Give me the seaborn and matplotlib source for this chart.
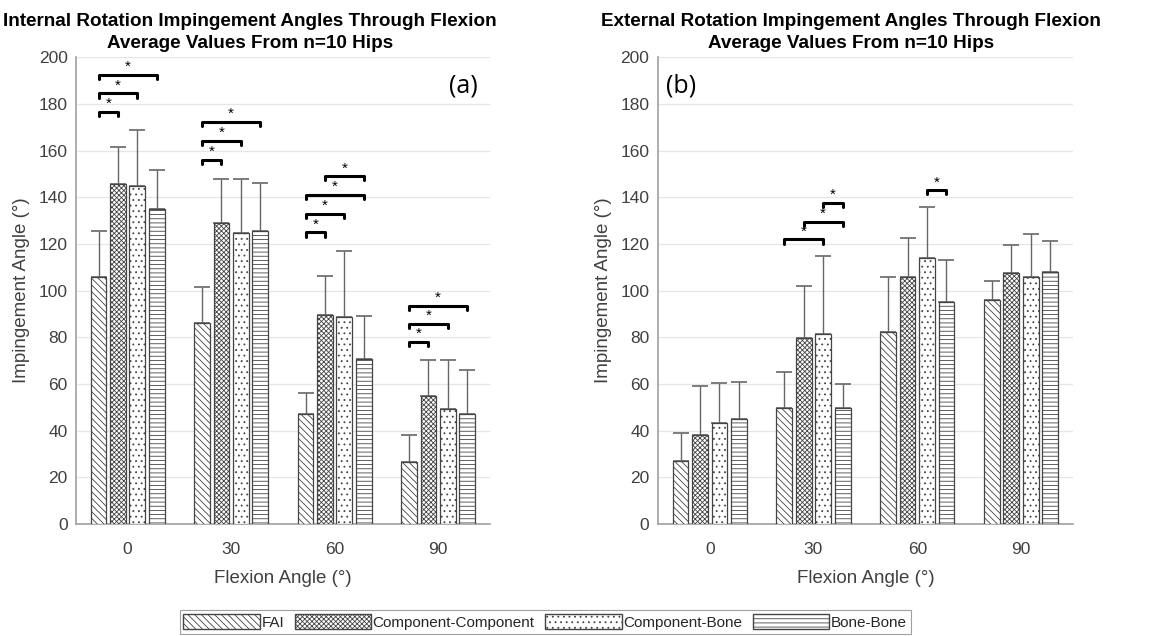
import matplotlib
matplotlib.use("Agg")
import matplotlib.pyplot as plt
import seaborn as sns
import pandas as pd
import numpy as np
from matplotlib.patches import Patch

# ---------------- data ----------------
flexion = ["0", "30", "60", "90"]
surfaces = ["FAI", "Component-Component", "Component-Bone", "Bone-Bone"]

ir_fai = [105.8, 86.0, 47.0, 26.7]
ir_cc = [145.8, 129.0, 89.4, 55.0]
ir_cb = [145.0, 124.8, 88.8, 49.4]
ir_bb = [134.8, 125.7, 70.8, 47.0]
ir_fai_sd = [19.9, 15.6, 9.0, 11.3]
ir_cc_sd = [15.9, 19.0, 17.0, 15.4]
ir_cb_sd = [24.0, 23.2, 28.4, 21.0]
ir_bb_sd = [16.7, 20.3, 18.2, 19.0]

er_fai = [26.9, 49.6, 82.4, 95.9]
er_cc = [38.0, 79.6, 105.7, 107.5]
er_cb = [43.4, 81.3, 113.9, 105.7]
er_bb = [44.8, 49.6, 95.3, 108.0]
er_fai_sd = [12.1, 15.6, 23.3, 8.4]
er_cc_sd = [21.3, 22.4, 16.7, 12.1]
er_cb_sd = [17.0, 33.5, 22.1, 18.6]
er_bb_sd = [16.1, 10.3, 17.7, 13.3]

# significance brackets: (flexion group index, surface i, surface j, height)
ir_sig = [(0, 0, 1, 176.7), (0, 0, 2, 184.5), (0, 0, 3, 192.6),
          (1, 0, 1, 156.0), (1, 0, 2, 164.3), (1, 0, 3, 172.2),
          (2, 0, 1, 125.0), (2, 0, 2, 133.0), (2, 0, 3, 141.0), (2, 1, 3, 149.0),
          (3, 0, 1, 78.0), (3, 0, 2, 85.7), (3, 0, 3, 93.6)]
er_sig = [(1, 0, 2, 122.0), (1, 1, 3, 129.6), (1, 2, 3, 137.7),
          (2, 2, 3, 143.0)]

titles = ["Internal Rotation Impingement Angles Through Flexion\nAverage Values From n=10 Hips",
          "External Rotation Impingement Angles Through Flexion\nAverage Values From n=10 Hips"]
panel_labels = ["(a)", "(b)"]
hatches = ["\\\\\\\\\\", "xxxxxxx", "...", "----"]

# ---------------- style ----------------
sns.set_theme(style="white")
plt.rcParams["font.family"] = ["Liberation Sans", "DejaVu Sans"]
plt.rcParams["hatch.linewidth"] = 0.6
plt.rcParams["hatch.color"] = "#555555"

def build_df(m, s):
    rows = []
    for si, name in enumerate(surfaces):
        for fi, f in enumerate(flexion):
            rows.append({"Flexion": f, "Surface": name, "Mean": m[si][fi], "SD": s[si][fi]})
    return pd.DataFrame(rows)

df_ir = build_df([ir_fai, ir_cc, ir_cb, ir_bb], [ir_fai_sd, ir_cc_sd, ir_cb_sd, ir_bb_sd])
df_er = build_df([er_fai, er_cc, er_cb, er_bb], [er_fai_sd, er_cc_sd, er_cb_sd, er_bb_sd])

fig = plt.figure(figsize=(11.5, 6.36), dpi=100)
ax1 = fig.add_axes([0.066, 0.176, 0.360, 0.734])
ax2 = fig.add_axes([0.572, 0.176, 0.361, 0.734])

for ax, df, sig, title, tx in [(ax1, df_ir, ir_sig, titles[0], 0.42),
                               (ax2, df_er, er_sig, titles[1], 0.465)]:
    sns.barplot(data=df, x="Flexion", y="Mean", hue="Surface", order=flexion,
                hue_order=surfaces, palette=["white"] * 4, width=0.75, gap=0.19,
                edgecolor="#444444", linewidth=0.9, errorbar=None, legend=False,
                ax=ax, zorder=3)
    bar_containers = list(ax.containers)
    centers = {}
    for si, cont in enumerate(bar_containers):
        for fi, bar in enumerate(cont.patches):
            bar.set_hatch(hatches[si])
            cx = bar.get_x() + bar.get_width() / 2
            centers[(fi, si)] = cx
            sub = df[(df.Surface == surfaces[si]) & (df.Flexion == flexion[fi])].iloc[0]
            ax.errorbar(cx, sub.Mean, yerr=[[0], [sub.SD]], color="#666666",
                        elinewidth=1.0, capsize=5.5, capthick=1.2, zorder=2)
    for (fi, a, b, h) in sig:
        x0 = centers[(fi, a)]
        x1 = centers[(fi, b)]
        ax.plot([x0, x0, x1, x1], [h - 1.8, h, h, h - 1.8], color="black",
                lw=2.2, solid_capstyle="round", solid_joinstyle="round", zorder=4)
        ax.text((x0 + x1) / 2, h + 0.4, "*", ha="center", va="bottom",
                fontsize=11, color="black")

    ax.set_ylim(0, 200)
    ax.set_xlim(-0.5, 3.5)
    ax.set_yticks(range(0, 201, 20))
    ax.yaxis.grid(True, color="#e6e6e6", lw=0.9, zorder=0)
    ax.set_axisbelow(True)
    for side in ["top", "right"]:
        ax.spines[side].set_visible(False)
    for side in ["left", "bottom"]:
        ax.spines[side].set_color("#a0a0a0")
        ax.spines[side].set_linewidth(1.2)
    ax.tick_params(axis="both", length=0, labelsize=12.5, colors="#404040")
    ax.tick_params(axis="y", pad=6)
    ax.tick_params(axis="x", pad=13)
    ax.set_xlabel("Flexion Angle (°)", fontsize=13.5, color="#404040", labelpad=9)
    ax.set_ylabel("Impingement Angle (°)", fontsize=13.5, color="#404040", labelpad=6)
    ax.set_title(title, fontsize=13.6, fontweight="bold", color="black",
                 family=["Liberation Sans Narrow", "Liberation Sans", "DejaVu Sans"],
                 pad=7, linespacing=1.35, x=tx)

ax1.text(0.97, 0.965, panel_labels[0], transform=ax1.transAxes, ha="right", va="top",
         fontsize=18, color="black", family=["Open Sans", "DejaVu Sans"])
ax2.text(0.02, 0.965, panel_labels[1], transform=ax2.transAxes, ha="left", va="top",
         fontsize=18, color="black", family=["Open Sans", "DejaVu Sans"])

handles = [Patch(facecolor="white", edgecolor="#444444", hatch=hatches[i], label=surfaces[i])
           for i in range(4)]
leg = fig.legend(handles=handles, loc="center", bbox_to_anchor=(0.474, 0.022), ncol=4,
                 frameon=True, handlelength=5.0, handleheight=1.1,
                 columnspacing=0.7, handletextpad=0.1, borderpad=0.25,
                 fancybox=False, edgecolor="#888888",
                 prop={"family": ["Liberation Sans Narrow", "Liberation Sans"], "size": 11})
leg.get_frame().set_linewidth(0.8)

fig.savefig("out.png", dpi=100)
